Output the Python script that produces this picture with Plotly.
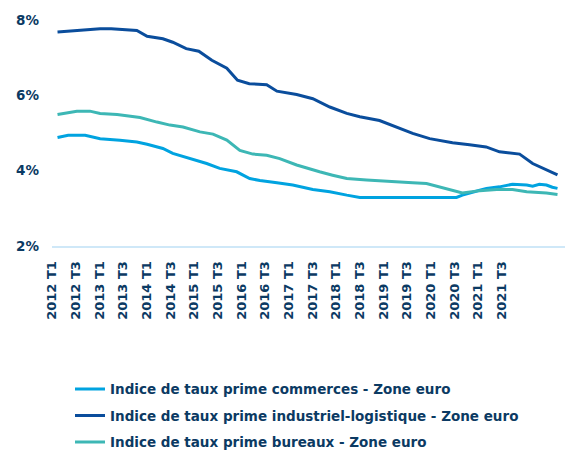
import plotly.graph_objects as go

# x in months since January 2012 (2012 T1 = 0)
tick_months = [0, 6, 12, 18, 24, 30, 36, 42, 48, 54, 60, 66, 72, 78, 84, 90, 96, 102, 108, 114]
tick_labels = ["2012 T1", "2012 T3", "2013 T1", "2013 T3", "2014 T1", "2014 T3",
               "2015 T1", "2015 T3", "2016 T1", "2016 T3", "2017 T1", "2017 T3",
               "2018 T1", "2018 T3", "2019 T1", "2019 T3", "2020 T1", "2020 T3",
               "2021 T1", "2021 T3"]

commerces_x = [1.4, 4.1, 8.4, 12.2, 17.2, 21.5, 24.1, 28.1, 30.6, 34.9, 39.2, 42.5, 46.8,
               50.1, 52.7, 57.0, 61.0, 66.1, 70.4, 74.7, 78.0, 102.5, 104.0, 108.4, 110.1,
               113.4, 116.7, 120.3, 121.8, 123.5, 125.3, 126.8, 128.1]
commerces_y = [4.88, 4.94, 4.94, 4.85, 4.81, 4.76, 4.70, 4.59, 4.46, 4.32, 4.19, 4.06, 3.97,
               3.79, 3.74, 3.68, 3.62, 3.50, 3.44, 3.35, 3.29, 3.29, 3.35, 3.48, 3.53,
               3.57, 3.64, 3.62, 3.59, 3.64, 3.62, 3.56, 3.53]

industriel_x = [1.4, 4.1, 12.2, 15.0, 21.5, 24.1, 28.1, 30.6, 34.0, 37.2, 40.5, 44.3, 47.0,
                50.0, 54.4, 57.0, 62.0, 66.1, 70.4, 74.7, 78.0, 83.0, 87.3, 91.4, 95.7,
                101.5, 105.8, 110.0, 113.4, 118.5, 121.8, 128.1]
industriel_y = [7.68, 7.70, 7.77, 7.77, 7.72, 7.57, 7.50, 7.41, 7.24, 7.17, 6.93, 6.72, 6.40,
                6.31, 6.28, 6.11, 6.02, 5.91, 5.69, 5.52, 5.43, 5.33, 5.16, 4.99, 4.85,
                4.74, 4.69, 4.63, 4.50, 4.44, 4.19, 3.89]

bureaux_x = [1.4, 4.1, 6.3, 9.6, 12.2, 16.5, 19.7, 22.3, 26.6, 29.9, 33.2, 37.5, 40.8,
             44.3, 47.6, 50.9, 54.4, 57.7, 62.0, 64.6, 67.8, 71.1, 74.7, 79.7, 86.3,
             91.4, 94.9, 98.2, 101.5, 104.0, 108.4, 112.7, 116.7, 120.3, 125.3, 128.1]
bureaux_y = [5.49, 5.53, 5.58, 5.58, 5.52, 5.49, 5.44, 5.41, 5.29, 5.21, 5.16, 5.03, 4.97,
             4.81, 4.54, 4.44, 4.41, 4.32, 4.15, 4.06, 3.97, 3.88, 3.79, 3.75, 3.70,
             3.68, 3.66, 3.57, 3.46, 3.41, 3.47, 3.50, 3.50, 3.44, 3.41, 3.37]

y_ticks = [2, 4, 6, 8]
y_tick_labels = ["2%", "4%", "6%", "8%"]

NAVY = "#0b3a63"
FONT = "DejaVu Sans"

series = [
    ("Indice de taux prime commerces - Zone euro", commerces_x, commerces_y, "#00a3e0"),
    ("Indice de taux prime industriel-logistique - Zone euro", industriel_x, industriel_y, "#0a4d9c"),
    ("Indice de taux prime bureaux - Zone euro", bureaux_x, bureaux_y, "#3db7b5"),
]

fig = go.Figure()
for i, (name, xs, ys, col) in enumerate(series):
    fig.add_trace(go.Scatter(
        x=xs, y=ys, name=name, mode="lines", legendgroup=f"g{i}",
        line=dict(color=col, width=3, shape="linear"),
    ))

L, T, B = 52, 19.5, 207
PW, PH = 565 - L, 453 - T - B

fig.update_layout(
    width=565, height=453,
    margin=dict(l=L, r=0, t=T, b=B, autoexpand=False),
    paper_bgcolor="white", plot_bgcolor="white",
    font=dict(family=FONT, color=NAVY),
    showlegend=True,
    legend=dict(
        orientation="v", traceorder="grouped", tracegroupgap=6,
        xref="paper", yref="paper",
        x=(70 - L) / PW, y=(T + PH - 374) / PH, xanchor="left", yanchor="top",
        font=dict(family=FONT, size=13.5, color=NAVY, weight="bold"),
        bgcolor="rgba(0,0,0,0)",
    ),
    xaxis=dict(
        range=[0, 130], tickmode="array", tickvals=tick_months, ticktext=tick_labels,
        tickangle=-90, showgrid=False, zeroline=False,
        showline=True, linecolor="#cfe8f8", linewidth=2,
        ticks="", ticklabelstandoff=8,
        tickfont=dict(family=FONT, size=13, color=NAVY, weight="bold"),
    ),
    yaxis=dict(
        range=[2, 8], tickmode="array", tickvals=y_ticks, ticktext=y_tick_labels,
        showgrid=False, zeroline=False, showline=False, ticks="",
        ticklabelstandoff=12,
        tickfont=dict(family=FONT, size=13.5, color=NAVY, weight="bold"),
    ),
)

fig.write_html(
    "out.html",
    config={"displayModeBar": False},
    post_script="document.body.style.margin='0';document.body.style.padding='0';",
)
